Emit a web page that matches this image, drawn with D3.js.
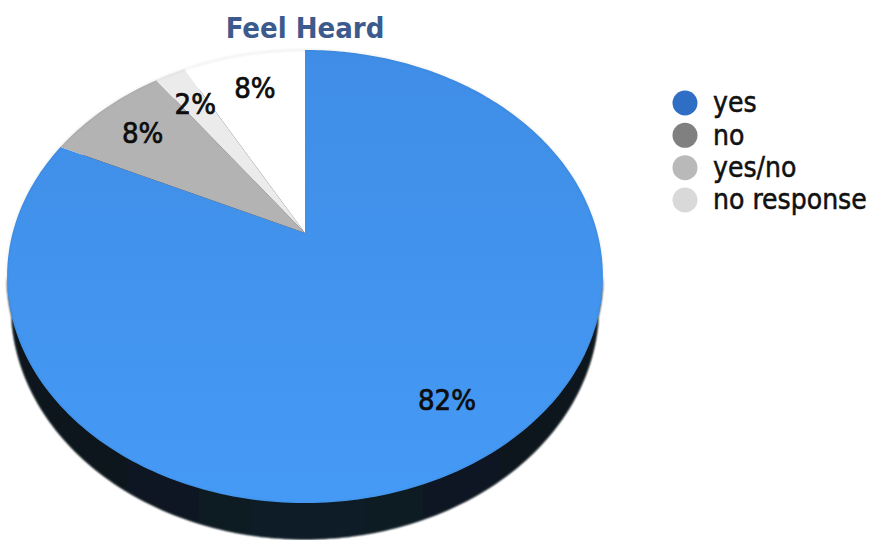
<!DOCTYPE html>
<html>
<head>
<meta charset="utf-8">
<script src="https://cdn.jsdelivr.net/npm/d3@7"></script>
<style>
  html, body { margin: 0; padding: 0; background: #ffffff; }
  svg { display: block; }
</style>
</head>
<body>
<svg id="chart" width="873" height="540"></svg>
<script>
// ---- data ----
const title = "Feel Heard";
const categories = ["yes", "no", "yes/no", "no response"];
const values = [82, 8, 2, 8];
const labels = ["82%", "8%", "2%", "8%"];
const sliceColors = ["#4190e8", "#b3b3b3", "#ebebeb", "#ffffff"];
const legendColors = ["#2f6ec5", "#808080", "#b9b9b9", "#d9d9d9"];

// ---- geometry (perspective-projected disc) ----
const W = 873, H = 540;
const cx = 305, cy = 233;      // projected centre of the disc
const A = 292.4, T = 218.2;    // horizontal / vertical projection scale
const B = 0.192;               // perspective strength
const D = 29;                  // thickness of the disc
const KB = 0.985;              // bottom face appears slightly narrower

function proj(a, r = 1) {
  const u = r * Math.sin(a), v = -r * Math.cos(a);
  const w = 1 - B * v;
  return [cx + A * u / w, cy + T * v / w];
}
function projBottom(a) {
  const p = proj(a);
  const v = -Math.cos(a);
  return [cx + (p[0] - cx) * KB, p[1] + D / (1 - B * v)];
}
const line = d3.line();
function sample(a0, a1, f) {
  const n = Math.max(2, Math.ceil(Math.abs(a1 - a0) / (Math.PI * 2) * 360));
  const s = d3.scaleLinear().domain([0, n]).range([a0, a1]);
  return d3.range(n + 1).map(i => f(s(i)));
}

const svg = d3.select("#chart");
const defs = svg.append("defs");

// side gradient
const sg = defs.append("linearGradient").attr("id", "sideGrad")
  .attr("x1", "0%").attr("x2", "100%").attr("y1", "0%").attr("y2", "0%");
sg.append("stop").attr("offset", "0%").attr("stop-color", "#0b141b");
sg.append("stop").attr("offset", "50%").attr("stop-color", "#111d27");
sg.append("stop").attr("offset", "100%").attr("stop-color", "#0c151c");

// top face gradient for blue
const tg = defs.append("linearGradient").attr("id", "blueGrad")
  .attr("x1", "0%").attr("x2", "0%").attr("y1", "0%").attr("y2", "100%");
tg.append("stop").attr("offset", "0%").attr("stop-color", "#3f8de6");
tg.append("stop").attr("offset", "100%").attr("stop-color", "#459af5");

const blur = defs.append("filter").attr("id", "soft");
blur.append("feGaussianBlur").attr("stdDeviation", 0.8);

const g = svg.append("g");

// ---- side of the disc ----
const aR = Math.acos(-B), aL = 2 * Math.PI - Math.acos(-B);
const sidePts = sample(aR, aL, proj).concat(sample(aL, aR, projBottom));
g.append("path").attr("d", line(sidePts) + "Z")
  .attr("fill", "url(#sideGrad)").attr("filter", "url(#soft)");
g.append("path").attr("d", line(sample(0, 2 * Math.PI, projBottom)) + "Z")
  .attr("fill", "url(#sideGrad)").attr("filter", "url(#soft)");

// ---- top face slices ----
const pie = d3.pie().sort(null).value(d => d.value);
const data = pie(categories.map((c, i) => ({ name: c, value: values[i], label: labels[i], color: sliceColors[i] })));

g.selectAll("path.slice").data(data).join("path")
  .attr("class", "slice")
  .attr("d", d => line([[cx, cy]].concat(sample(d.startAngle, d.endAngle, proj))) + "Z")
  .attr("fill", (d, i) => i === 0 ? "url(#blueGrad)" : d.data.color);

// faint rim
g.append("path").attr("d", line(sample(0, 2 * Math.PI, proj)) + "Z")
  .attr("fill", "none").attr("stroke", "rgba(0,0,0,0.10)").attr("stroke-width", 1.2)
  .attr("filter", "url(#soft)");

// ---- labels ----
g.selectAll("text.lbl").data(data).join("text")
  .attr("class", "lbl")
  .attr("x", d => proj((d.startAngle + d.endAngle) / 2, 0.79)[0])
  .attr("y", d => proj((d.startAngle + d.endAngle) / 2, 0.79)[1])
  .attr("dy", "0.36em")
  .attr("text-anchor", "middle")
  .attr("font-family", "'DejaVu Sans Condensed', 'DejaVu Sans', sans-serif")
  .attr("font-size", 29)
  .attr("fill", "#0d0d0d")
  .attr("stroke", "#0d0d0d").attr("stroke-width", 0.7)
  .text(d => d.data.label);

// ---- title ----
svg.append("text")
  .attr("x", 305).attr("y", 38)
  .attr("text-anchor", "middle")
  .attr("font-family", "'DejaVu Sans Condensed', 'DejaVu Sans', sans-serif")
  .attr("font-weight", "bold")
  .attr("font-size", 29)
  .attr("fill", "#3c5b8c")
  .text(title);

// ---- legend ----
const ly = d3.scalePoint().domain(categories).range([103, 200]);
const leg = svg.append("g").selectAll("g").data(categories).join("g")
  .attr("transform", d => `translate(685,${ly(d)})`);
leg.append("circle").attr("r", 12.5).attr("fill", (d, i) => legendColors[i]);
leg.append("text").attr("x", 28).attr("dy", "0.33em")
  .attr("font-family", "'DejaVu Sans Condensed', 'DejaVu Sans', sans-serif")
  .attr("font-size", 28)
  .attr("fill", "#111")
  .attr("stroke", "#111").attr("stroke-width", 0.5)
  .text(d => d);
</script>
</body>
</html>
